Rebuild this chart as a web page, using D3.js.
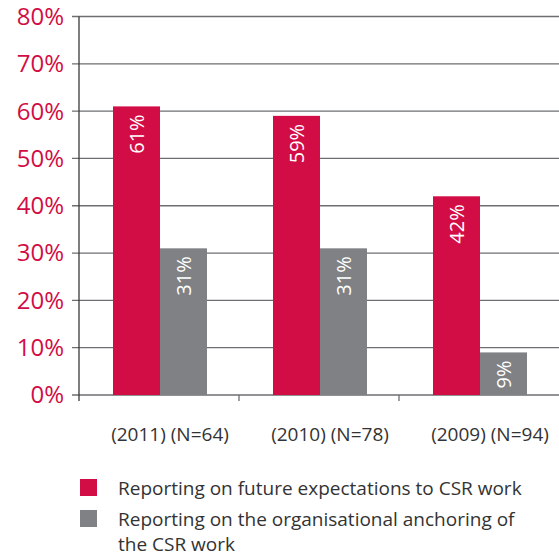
<!DOCTYPE html>
<html>
<head>
<meta charset="utf-8">
<script src="https://cdn.jsdelivr.net/npm/d3@7"></script>
<style>
  html, body { margin: 0; padding: 0; background: #fff; }
  svg { display: block; font-family: 'Open Sans', sans-serif; }
</style>
</head>
<body>
<div id="root"></div>
<script>
'use strict';

var categories = ['(2011) (N=64)', '(2010) (N=78)', '(2009) (N=94)'];
var futureValues = [61, 59, 42];
var anchoringValues = [31, 31, 9];
var yTicks = [0, 10, 20, 30, 40, 50, 60, 70, 80];
var legendLines = [
  ['Reporting on future expectations to CSR work'],
  ['Reporting on the organisational anchoring of', 'the CSR work']
];

var colors = ['#d20d45', '#808184'];
var width = 559;
var height = 558;
var plotLeft = 79;
var plotRight = 559;
var plotTop = 16.5;
var plotBottom = 395;

var svg = d3.select('#root')
  .append('svg')
  .attr('width', width)
  .attr('height', height);

var yScale = d3.scaleLinear()
  .domain([0, 80])
  .range([plotBottom, plotTop]);

var x0 = d3.scaleBand()
  .domain(categories)
  .range([plotLeft, plotRight]);

var x1 = d3.scaleBand()
  .domain([0, 1])
  .range([34, 128]);

var data = categories.map(function(c, i) {
  return { cat: c, values: [futureValues[i], anchoringValues[i]] };
});

// gridlines + y labels
var grid = svg.append('g');
grid.selectAll('line')
  .data(yTicks)
  .enter()
  .append('line')
  .attr('x1', plotLeft - 7)
  .attr('x2', plotRight)
  .attr('y1', d => yScale(d))
  .attr('y2', d => yScale(d))
  .attr('stroke', '#6d6e71')
  .attr('stroke-width', 1.3);

grid.selectAll('text')
  .data(yTicks)
  .enter()
  .append('text')
  .attr('x', 64)
  .attr('y', d => yScale(d))
  .attr('dy', '0.35em')
  .attr('text-anchor', 'end')
  .attr('fill', '#d20d45')
  .style('font-size', '24px')
  .text(d => d + '%');

// y axis line
svg.append('line')
  .attr('x1', plotLeft).attr('x2', plotLeft)
  .attr('y1', plotTop).attr('y2', plotBottom + 6)
  .attr('stroke', '#3a3a3a')
  .attr('stroke-width', 1.3);

// x ticks between groups
svg.selectAll('.xtick')
  .data(categories.slice(1))
  .enter()
  .append('line')
  .attr('class', 'xtick')
  .attr('x1', d => x0(d)).attr('x2', d => x0(d))
  .attr('y1', plotBottom).attr('y2', plotBottom + 6)
  .attr('stroke', '#6d6e71')
  .attr('stroke-width', 1.3);

// bars
var groups = svg.selectAll('.group')
  .data(data)
  .enter()
  .append('g')
  .attr('class', 'group')
  .attr('transform', d => `translate(${x0(d.cat)},0)`);

groups.selectAll('rect')
  .data(d => d.values)
  .enter()
  .append('rect')
  .attr('x', (d, i) => x1(i))
  .attr('width', x1.bandwidth())
  .attr('y', d => yScale(d))
  .attr('height', d => plotBottom - yScale(d))
  .attr('fill', (d, i) => colors[i]);

groups.selectAll('.val')
  .data(d => d.values)
  .enter()
  .append('text')
  .attr('class', 'val')
  .attr('transform', (d, i) => `translate(${x1(i) + x1.bandwidth() / 2},${yScale(d) + 8}) rotate(-90)`)
  .attr('text-anchor', 'end')
  .attr('dominant-baseline', 'central')
  .attr('fill', '#fff')
  .style('font-size', '20px')
  .text(d => d + '%');

// x labels
svg.selectAll('.xlabel')
  .data(categories)
  .enter()
  .append('text')
  .attr('class', 'xlabel')
  .attr('x', d => x0(d) + x0.bandwidth() / 2 + 11)
  .attr('y', 441)
  .attr('text-anchor', 'middle')
  .attr('fill', '#333')
  .style('font-size', '19px')
  .text(d => d);

// legend
var legend = svg.selectAll('.legend')
  .data(legendLines)
  .enter()
  .append('g')
  .attr('class', 'legend')
  .attr('transform', (d, i) => `translate(80,${479 + i * 31})`);

legend.append('rect')
  .attr('width', 17)
  .attr('height', 17)
  .attr('fill', (d, i) => colors[i]);

legend.append('text')
  .attr('x', 38)
  .attr('y', 16)
  .attr('fill', '#333')
  .style('font-size', '19px')
  .selectAll('tspan')
  .data(d => d)
  .enter()
  .append('tspan')
  .attr('x', 38)
  .attr('dy', (d, i) => i === 0 ? 0 : 25)
  .text(d => d);
</script>
</body>
</html>
